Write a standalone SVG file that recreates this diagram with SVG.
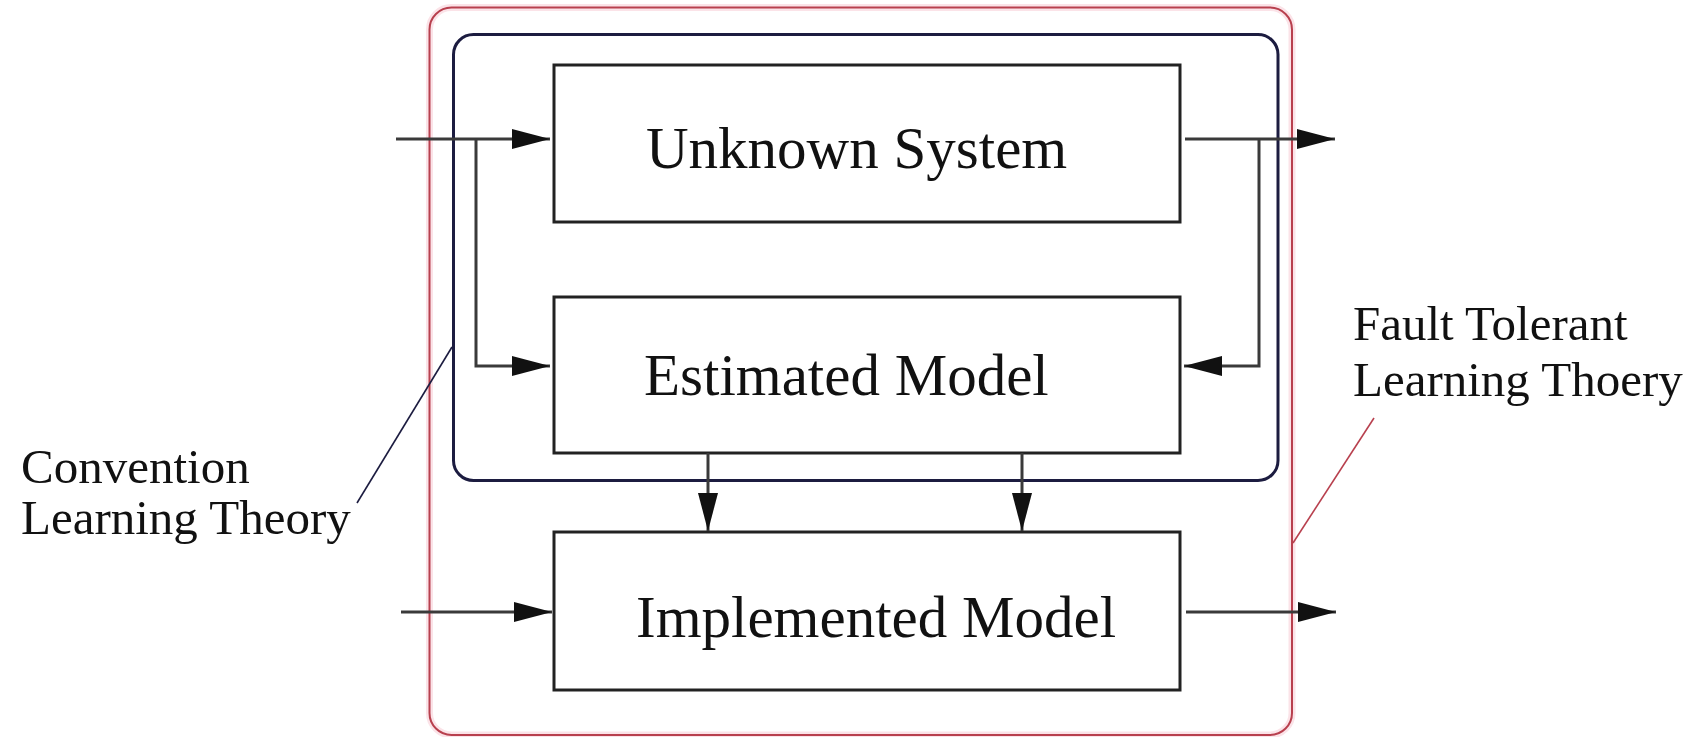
<svg xmlns="http://www.w3.org/2000/svg" width="1700" height="737" viewBox="0 0 1700 737">
  <style>
    .block { fill: #ffffff; stroke: #222222; stroke-width: 3; }
    .label { font-family: "Liberation Serif", "Times New Roman", serif; font-size: 59px; fill: #111111; }
    .note { font-family: "Liberation Serif", "Times New Roman", serif; font-size: 49px; fill: #111111; }
    .wire { fill: none; stroke: #3a3a3a; stroke-width: 3; }
    .arrow { marker-end: url(#head); }
  </style>
  <defs>
    <marker id="head" markerUnits="userSpaceOnUse" markerWidth="38" markerHeight="20" refX="38" refY="10" orient="auto">
      <path d="M0,0 L38,10 L0,20 Z" fill="#111111"/>
    </marker>
  </defs>

  <rect width="1700" height="737" fill="#ffffff"/>

  <!-- fault tolerant learning scope -->
  <g id="fault-tolerant-scope">
    <rect x="429.5" y="7.5" width="862.5" height="727.5" rx="22" ry="22" fill="none" stroke="#fbe3e8" stroke-width="7"/>
    <rect x="429.5" y="7.5" width="862.5" height="727.5" rx="22" ry="22" fill="none" stroke="#b8404e" stroke-width="2"/>
  </g>

  <!-- conventional learning scope -->
  <g id="convention-scope">
    <rect x="453.5" y="34.5" width="824.5" height="446" rx="20" ry="20" fill="none" stroke="#1c1c40" stroke-width="3"/>
  </g>

  <g id="unknown-system">
    <rect class="block" x="554" y="65" width="626" height="157"/>
    <text class="label" x="646" y="168">Unknown System</text>
  </g>

  <g id="estimated-model">
    <rect class="block" x="554" y="297" width="626" height="156"/>
    <text class="label" x="644" y="395">Estimated Model</text>
  </g>

  <g id="implemented-model">
    <rect class="block" x="554" y="532" width="626" height="158"/>
    <text class="label" x="636" y="637">Implemented Model</text>
  </g>

  <g id="connectors">
    <!-- input to unknown system, branched to the estimator -->
    <path class="wire arrow" d="M396,139 L550,139"/>
    <path class="wire arrow" d="M476,139 L476,366 L550,366"/>
    <!-- output of unknown system, fed back to the estimator -->
    <path class="wire arrow" d="M1185,139 L1335,139"/>
    <path class="wire arrow" d="M1259,139 L1259,366 L1184,366"/>
    <!-- estimated parameters into the implemented model -->
    <path class="wire arrow" d="M708,453 L708,531"/>
    <path class="wire arrow" d="M1022,453 L1022,531"/>
    <!-- implemented model input and output -->
    <path class="wire arrow" d="M401,612 L552,612"/>
    <path class="wire arrow" d="M1186,612 L1336,612"/>
    <!-- label leaders -->
    <path d="M452,347 L357,503" fill="none" stroke="#1c1c40" stroke-width="1.6"/>
    <path d="M1374,418 L1293,543" fill="none" stroke="#b8404e" stroke-width="1.6"/>
  </g>

  <g id="convention-label">
    <text class="note" x="21" y="483">Convention</text>
    <text class="note" x="21" y="534">Learning Theory</text>
  </g>

  <g id="fault-tolerant-label">
    <text class="note" x="1353" y="340">Fault Tolerant</text>
    <text class="note" x="1353" y="396">Learning Thoery</text>
  </g>
</svg>
